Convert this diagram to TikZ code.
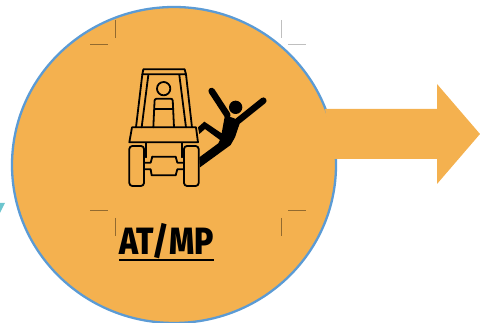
\documentclass[tikz,border=0pt]{standalone}
\usepackage{fontspec}
\setmainfont{Fira Sans}
\newfontfamily\heavyfont{Fira Sans ExtraBold}
\definecolor{fillor}{HTML}{F4B14F}
\definecolor{edgeb}{HTML}{5B9BD5}
\definecolor{teal}{HTML}{6CC5CE}
\tikzset{
  mark dark/.style={draw=black!40!fillor,line width=0.5pt},
  mark light/.style={draw=black!25,line width=0.6pt},
  ink/.style={draw=black,line width=1.8pt,line join=round,line cap=round},
}
\begin{document}
\begin{tikzpicture}[x=1pt,y=-1pt]
\useasboundingbox (0,0) rectangle (480,323);
\begin{scope}
\clip (0,0) rectangle (480,323);
\fill[teal] (0,203) -- (5,203) -- (0,213) -- cycle;
\draw[edgeb,line width=2.3pt,fill=fillor] (174,165) ellipse [x radius=162,y radius=158];
\fill[fillor] (325,109) -- (437,109) -- (437,84) -- (480,134) -- (437,184) -- (437,159) -- (334,159) -- cycle;
\end{scope}
% crop marks
\draw[mark dark] (115,20) -- (115,38);
\draw[mark dark] (90,44) -- (108,44);
\draw[mark light] (281,20) -- (281,38);
\draw[mark light] (288,44) -- (306,44);
\draw[mark dark] (90,210) -- (108,210);
\draw[mark dark] (115,218) -- (115,236);
\draw[mark dark] (288,210) -- (306,210);
\draw[mark dark] (281,218) -- (281,236);
% tractor
\begin{scope}[shift={(110,50)},x=0.3333pt,y=-0.3333pt]
\draw[ink] (100,58) -- (224,58) -- (228,73) -- (97,73) -- cycle;
\draw[ink] (97,73) -- (78,232);
\draw[ink] (228,73) -- (246,232);
\draw[ink] (115,75) -- (95,232);
\draw[ink] (208,75) -- (228,232);
\draw[ink] (161,116) circle [radius=20];
\draw[ink,rounded corners=2pt] (130,232) -- (134,146) -- (188,146) -- (192,232);
\draw[ink] (134,178) -- (188,178);
\draw[ink] (66,232) -- (258,232) -- (264,277) -- (58,277) -- cycle;
\draw[ink] (107,280) -- (107,322);
\draw[ink] (215,280) -- (215,322);
\draw[ink,rounded corners=3pt] (58,288) rectangle (102,408);
\draw[ink,rounded corners=3pt] (222,288) rectangle (266,408);
\draw[ink] (127,320) -- (197,320) -- (202,338) -- (222,338);
\draw[ink] (222,358) -- (202,358) -- (197,376) -- (125,376) -- (122,358) -- (102,358);
\draw[ink] (102,338) -- (122,338) -- (127,320);
% falling person
\fill (377,172) circle [radius=20];
\draw[black,line width=6.5pt,line cap=round] (305,123) -- (352,195);
\draw[black,line width=6.5pt,line cap=round] (460,152) -- (385,212);
\fill (345,195) -- (392,212) -- (375,262) -- (362,285) -- (270,352) -- (268,322) -- (325,280) -- (330,270) -- (285,237) -- (268,252) -- (264,232) -- (283,215) -- (335,250) -- cycle;
\end{scope}
% label
\node[inner sep=0pt,anchor=base] (label) at (166.5,255) {\scalebox{0.84}[1]{\fontsize{38}{38}\selectfont\heavyfont AT/MP}};
\draw[black,line width=2pt] (119,260.5) -- (214,260.5);
\end{tikzpicture}
\end{document}
